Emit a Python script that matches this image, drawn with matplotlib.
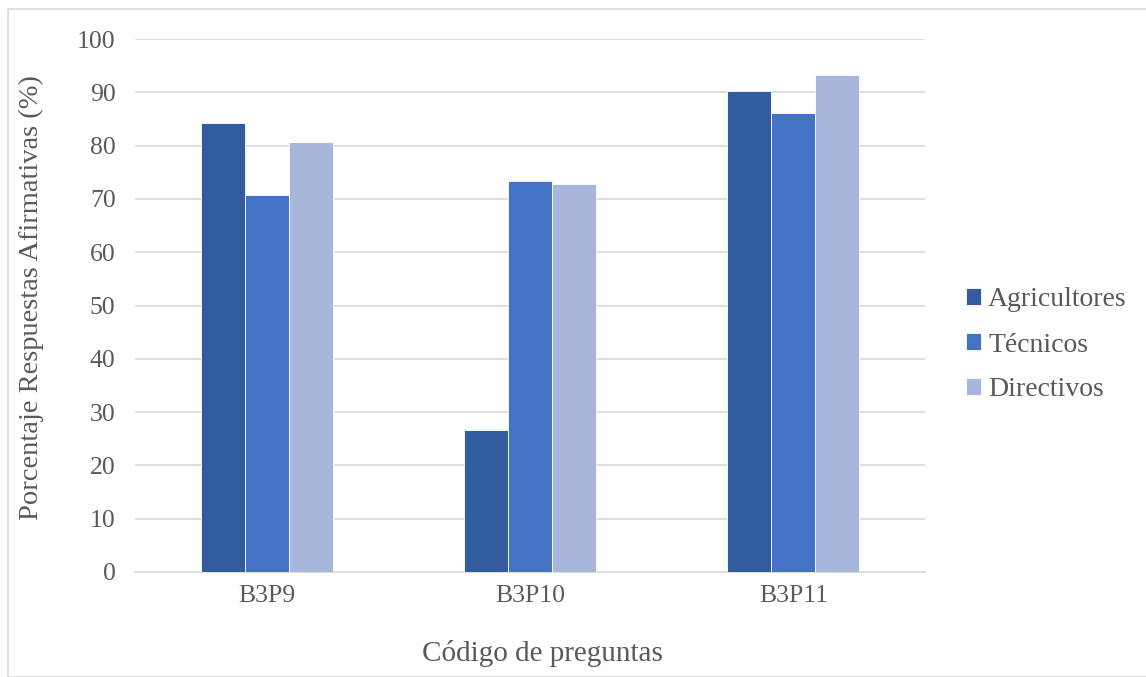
import matplotlib
matplotlib.use("Agg")
import matplotlib.pyplot as plt
import numpy as np
from matplotlib.patches import Rectangle

# Porcentaje de respuestas afirmativas por pregunta y grupo
preguntas = ["B3P9", "B3P10", "B3P11"]
grupos = ["Agricultores", "Técnicos", "Directivos"]
agricultores = [84.2, 26.6, 90.2]
tecnicos = [70.7, 73.4, 86.2]
directivos = [80.7, 72.8, 93.2]
colores = ["#335C9F", "#4472C4", "#A9B6DB"]

plt.rcParams["font.family"] = ["Liberation Serif", "DejaVu Serif"]
gris = "#595959"

fig = plt.figure(figsize=(11.46, 6.77), dpi=100)
ax = fig.add_axes([135 / 1146, 105 / 677, 790 / 1146, 533 / 677])

# marco exterior del gráfico
fig.patches.append(Rectangle((8 / 1146, 0), 1.2, (677 - 9) / 677, transform=fig.transFigure,
                             fill=False, edgecolor="#D9D9D9", linewidth=1.2))

x = np.arange(len(preguntas))
ancho = 0.167
for i, (serie, color, nombre) in enumerate(zip([agricultores, tecnicos, directivos], colores, grupos)):
    ax.bar(x + (i - 1) * ancho, serie, width=ancho, color=color, label=nombre,
           edgecolor="white", linewidth=0.6, zorder=3)

ax.set_xlim(-0.5, 2.5)
ax.set_ylim(0, 100)
ax.set_yticks(range(0, 101, 10))
ax.set_xticks(x)
ax.set_xticklabels(preguntas)
ax.grid(axis="y", color="#D9D9D9", linewidth=1.2, zorder=0)
for lado in ["top", "right", "left"]:
    ax.spines[lado].set_visible(False)
ax.spines["bottom"].set_color("#D9D9D9")
ax.spines["bottom"].set_linewidth(1.2)
ax.tick_params(axis="both", length=0, labelsize=18.5, colors=gris)
ax.tick_params(axis="y", pad=14)
ax.tick_params(axis="x", pad=9)

ax.set_ylabel("Porcentaje Respuestas Afirmativas (%)", fontsize=20.5, color=gris)
ax.yaxis.set_label_coords(-0.115, 0.515)
ax.set_xlabel("Código de preguntas", fontsize=21, color=gris)
ax.xaxis.set_label_coords(0.516, -0.128)

fig.legend(loc="center left", bbox_to_anchor=(941 / 1146, 1 - 345 / 677), frameon=False,
           fontsize=20, labelcolor=gris, handlelength=0.55, handleheight=0.55,
           handletextpad=0.25, labelspacing=0.72)

fig.savefig("out.png", dpi=100)
